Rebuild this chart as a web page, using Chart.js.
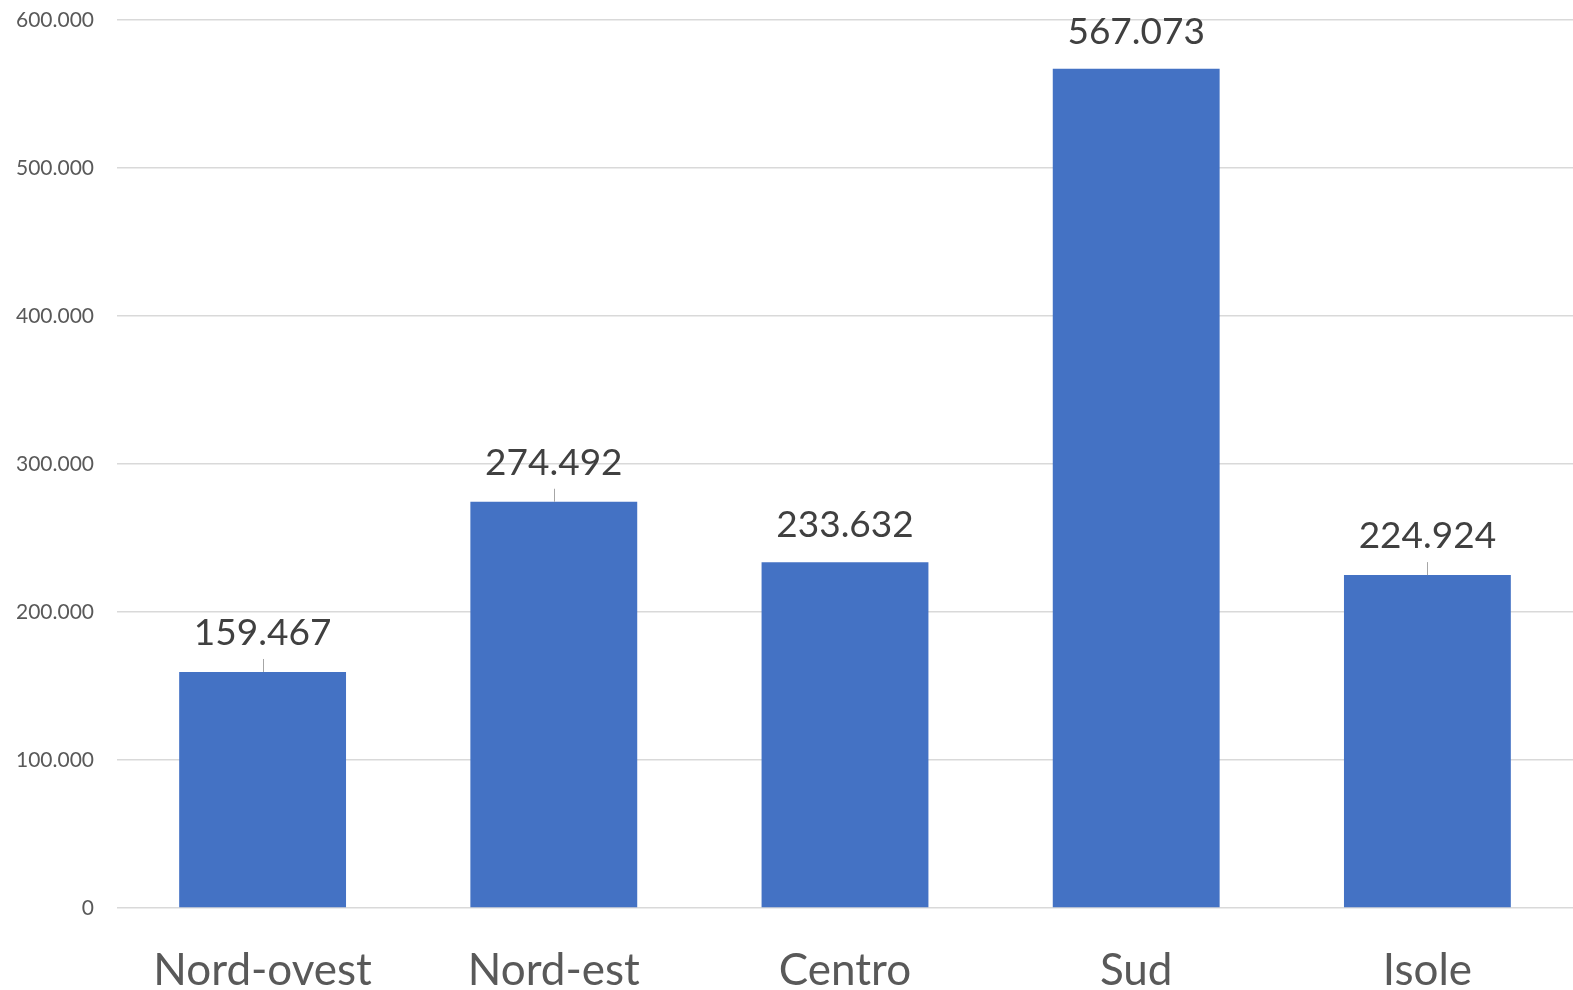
<!DOCTYPE html>
<html>
<head>
<meta charset="utf-8">
<script src="https://cdn.jsdelivr.net/npm/chart.js@4/dist/chart.umd.min.js"></script>
<style>
  html, body { margin: 0; padding: 0; background: #ffffff; }
  #wrap { width: 1573px; height: 990px; position: relative; }
</style>
</head>
<body>
<div id="wrap"><canvas id="c"></canvas></div>
<script>
const categories = ['Nord-ovest', 'Nord-est', 'Centro', 'Sud', 'Isole'];
const values = [159467, 274492, 233632, 567073, 224924];
const yTicks = [0, 100000, 200000, 300000, 400000, 500000, 600000];
const leaderLines = [true, true, false, false, true];

function fmt(v) {
  return String(Math.round(v)).replace(/\B(?=(\d{3})+(?!\d))/g, '.');
}

const valueLabels = {
  id: 'valueLabels',
  afterDatasetsDraw(chart) {
    const ctx = chart.ctx;
    const meta = chart.getDatasetMeta(0);
    ctx.save();
    meta.data.forEach((bar, i) => {
      const x = bar.x;
      const top = bar.y;
      const gap = leaderLines[i] ? 27 : 25;
      if (leaderLines[i]) {
        ctx.strokeStyle = '#a6a6a6';
        ctx.lineWidth = 1;
        ctx.beginPath();
        ctx.moveTo(Math.round(x) + 0.5, top - 13);
        ctx.lineTo(Math.round(x) + 0.5, top);
        ctx.stroke();
      }
      ctx.fillStyle = '#404040';
      ctx.font = '37px Lato';
      ctx.textAlign = 'center';
      ctx.textBaseline = 'alphabetic';
      ctx.fillText(fmt(values[i]), x, top - gap);
    });
    ctx.restore();
  }
};

new Chart(document.getElementById('c'), {
  type: 'bar',
  data: {
    labels: categories,
    datasets: [{
      data: values,
      backgroundColor: '#4472C4',
      borderWidth: 0,
      categoryPercentage: 1.0,
      barPercentage: 0.573
    }]
  },
  options: {
    responsive: true,
    maintainAspectRatio: false,
    animation: false,
    layout: { padding: { top: 20, right: 0, left: 0, bottom: 0 } },
    plugins: {
      legend: { display: false },
      tooltip: { enabled: false }
    },
    scales: {
      x: {
        grid: { display: false, drawTicks: false },
        border: { display: false },
        ticks: {
          color: '#595959',
          font: { family: 'Lato', size: 44 },
          padding: 36,
          maxRotation: 0
        },
        afterFit(scale) {
          scale.height = 82;
          scale.paddingLeft = 0; scale.paddingRight = 0;
          scale.paddingTop = 0; scale.paddingBottom = 0;
        }
      },
      y: {
        min: 0,
        max: 600000,
        afterBuildTicks(scale) { scale.ticks = yTicks.map(v => ({ value: v })); },
        grid: { color: '#d9d9d9', lineWidth: 1.5, drawTicks: false },
        border: { display: false },
        ticks: {
          color: '#595959',
          font: { family: 'Lato', size: 21 },
          padding: 23,
          callback: (v) => fmt(v)
        },
        afterFit(scale) {
          scale.width = 117;
          scale.paddingTop = 0; scale.paddingBottom = 0;
          scale.paddingLeft = 0; scale.paddingRight = 0;
        }
      }
    }
  },
  plugins: [valueLabels]
});
</script>
</body>
</html>
